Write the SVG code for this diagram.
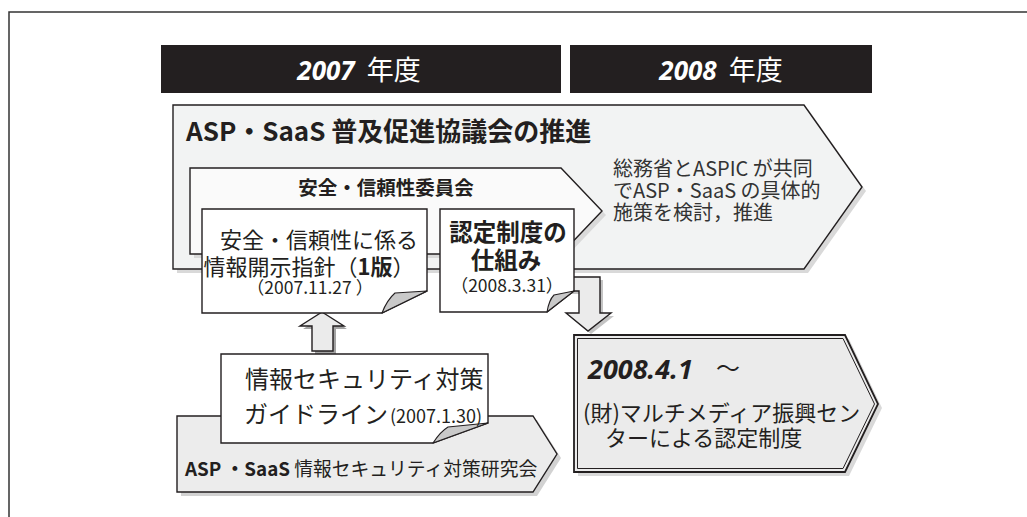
<svg xmlns="http://www.w3.org/2000/svg" width="1027" height="517" viewBox="0 0 1027 517">
<style>
text{font-family:'Noto Sans CJK JP','Noto Sans',sans-serif;fill:#231f20}
.ln{stroke:#231f20;stroke-width:1.4;stroke-linejoin:miter}
.sh{fill:#d9d9d9;stroke:none}
.bar{fill:#231f20}
.hd{fill:#fff;font-size:27px}
.num{font-family:'Noto Sans',sans-serif;font-weight:bold;font-style:italic}
.flap{fill:#c9c9c9;stroke:#231f20;stroke-width:1.1;stroke-linejoin:round}
.doc{fill:#fff}
.b{font-weight:bold}
.side{font-size:20px;fill:#333}
</style>
<rect x="9" y="12" width="1040" height="530" fill="#fff" stroke="#333" stroke-width="1.5"/>

<g id="header-2007">
<rect class="bar" x="161" y="45" width="400" height="48"/>
<text class="hd" x="359" y="80" text-anchor="middle"><tspan class="num" font-size="26">2007</tspan><tspan dx="6"> 年度</tspan></text>
</g>
<g id="header-2008">
<rect class="bar" x="570" y="45" width="302" height="48"/>
<text class="hd" x="721" y="80" text-anchor="middle"><tspan class="num" font-size="26">2008</tspan><tspan dx="6"> 年度</tspan></text>
</g>

<g id="aspic-council">
<polygon class="sh" points="177,109 808,109 866,191 808,273 177,273"/>
<polygon class="ln" fill="#f2f3f3" points="173,105 804,105 862,187 804,269 173,269"/>
<text class="b" x="186" y="141" font-size="26">ASP・SaaS 普及促進協議会の推進</text>
<text class="side" x="613" y="176">総務省とASPIC が共同</text>
<text class="side" x="613" y="198">でASP・SaaS の具体的</text>
<text class="side" x="613" y="220">施策を検討，推進</text>
</g>

<g id="committee">
<polygon class="sh" points="194,172 565,172 606,215 565,258 194,258"/>
<polygon class="ln" fill="#fafafa" points="190,168 561,168 602,211 561,254 190,254"/>
<text class="b" x="386" y="195" font-size="19.5" text-anchor="middle">安全・信頼性委員会</text>
</g>

<g id="connectors">
<polygon fill="#c4c4c4" points="563,280 603,280 603,316 614,316 591,334 569,316 582,316 582,294 563,294"/>
<polygon class="ln" fill="#ebebeb" points="560,277 600,277 600,313 611,313 588,331 566,313 579,313 579,291 560,291"/>
<polygon fill="#a3a3a3" points="325,315 347,329 336,329 336,354 315,354 315,329 303,329"/>
<polygon class="ln" fill="#ebebeb" points="322,312 344,326 333,326 333,351 312,351 312,326 300,326"/>
</g>

<g id="disclosure-guideline">
<path class="ln doc" d="M202,209 H427 V291 L382,313 H202 Z"/>
<path class="flap" d="M382,313 Q387,300 395,293 L427,291 Z"/>
<text x="319" y="248" font-size="22" text-anchor="middle">安全・信頼性に係る</text>
<text x="309" y="275" font-size="22" text-anchor="middle">情報開示指針（<tspan class="b">1版</tspan>）</text>
<text x="310" y="294" font-size="17.5" text-anchor="middle" fill="#333">（2007.11.27 ）</text>
</g>

<g id="certification-scheme">
<path class="ln doc" d="M440,209 H574 V291 L547,312 H440 Z"/>
<path class="flap" d="M547,312 Q549,300 554,295 L574,291 Z"/>
<text class="b" x="508" y="241" font-size="23.5" text-anchor="middle">認定制度の</text>
<text class="b" x="506" y="269" font-size="23.5" text-anchor="middle">仕組み</text>
<text x="507" y="292" font-size="17.5" text-anchor="middle" fill="#333">（2008.3.31）</text>
</g>

<g id="security-study-group">
<polygon fill="#d2d2d2" points="181,420 537,420 561,458 537,496 181,496"/>
<polygon class="ln" fill="#ececec" points="177,416 533,416 557,454 533,492 177,492"/>
<text x="185" y="476" font-size="18.8"><tspan class="b">ASP ・SaaS</tspan> 情報セキュリティ対策研究会</text>
</g>

<g id="security-guideline">
<path class="ln doc" d="M221,354 H488 V423 L433,443 H221 Z"/>
<path class="flap" d="M433,443 Q440,432 448,427 L488,423 Z"/>
<text x="245" y="388" font-size="24">情報セキュリティ対策</text>
<text x="244" y="423" font-size="24">ガイドライン<tspan font-size="18" dx="2">(2007.1.30)</tspan></text>
</g>

<g id="certification-2008">
<polygon class="sh" points="578,339 849,339 882,408 849,476 578,476"/>
<polygon fill="#ebebeb" stroke="#231f20" stroke-width="1.8" points="574,335 845,335 878,404 845,472 574,472"/>
<polygon fill="none" stroke="#231f20" stroke-width="1" points="577.5,338.5 843,338.5 874.5,404 843,468.5 577.5,468.5"/>
<text class="num" x="588" y="379" font-size="27">2008.4.1</text>
<text x="716" y="377" font-size="24">～</text>
<text x="583" y="421" font-size="22">(財)マルチメディア振興セン</text>
<text x="605" y="446" font-size="22">ターによる認定制度</text>
</g>
</svg>
